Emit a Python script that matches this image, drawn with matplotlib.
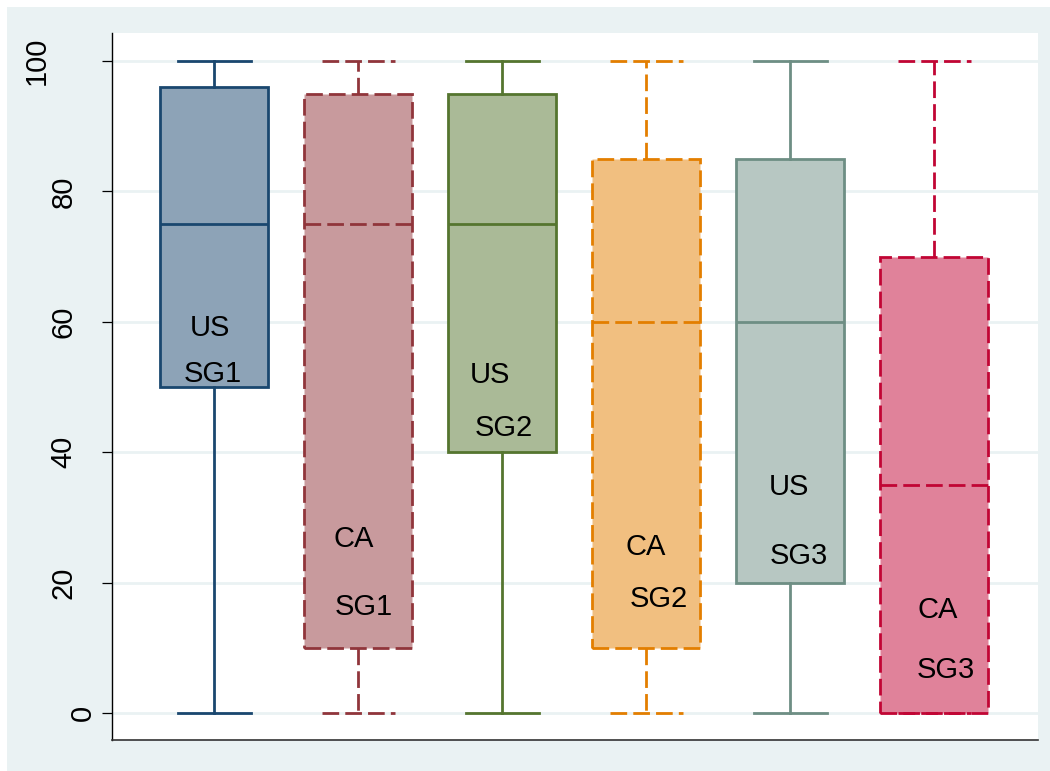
import matplotlib
matplotlib.use("Agg")
import matplotlib.pyplot as plt
import matplotlib.transforms as mtransforms
from matplotlib.patches import Rectangle
from matplotlib.colors import to_rgb

plt.rcParams["font.family"] = ["Liberation Sans", "DejaVu Sans"]

# box summaries for each country / subgroup
countries = ["US", "CA", "US", "CA", "US", "CA"]
groups = ["SG1", "SG1", "SG2", "SG2", "SG3", "SG3"]
whis_lo = [0, 0, 0, 0, 0, 0]
q1 = [50, 10, 40, 10, 20, 0]
medians = [75, 75, 75, 60, 60, 35]
q3 = [96, 95, 95, 85, 85, 70]
whis_hi = [100, 100, 100, 100, 100, 100]

line_colors = ["#1a476f", "#90353b", "#55752f", "#e37e00", "#6e8e84", "#c10534"]
dashed = [False, True, False, True, False, True]

# text placement inside the boxes (data coords, baseline)
country_x = [0.972, 1.969, 2.915, 3.999, 4.992, 6.024]
country_y = [57.9, 25.5, 50.7, 24.3, 33.4, 14.6]
group_x = [0.99, 2.039, 3.012, 4.089, 5.062, 6.077]
group_y = [50.8, 15.1, 42.5, 16.3, 22.9, 5.4]

bg = "#eaf2f3"
fs = 21
lw = 2.0


def lighten(c, amount=0.5):
    r, g, b = to_rgb(c)
    return (1 - amount * (1 - r), 1 - amount * (1 - g), 1 - amount * (1 - b))


fig = plt.figure(figsize=(10.5, 7.71), dpi=100)
fig.patches.append(Rectangle((7 / 1050, 0), 1, 1 - 7 / 771, transform=fig.transFigure,
                             facecolor=bg, edgecolor="none", zorder=-10))
ax = fig.add_axes([112 / 1050, 31 / 771, 926 / 1050, 707 / 771])
ax.set_facecolor("white")

stats = []
for i in range(len(countries)):
    stats.append({"med": medians[i], "q1": q1[i], "q3": q3[i],
                  "whislo": whis_lo[i], "whishi": whis_hi[i],
                  "label": countries[i] + " " + groups[i]})

positions = list(range(1, len(stats) + 1))
bp = ax.bxp(stats, positions=positions, widths=0.75, capwidths=0.51,
            patch_artist=True, showfliers=False, manage_ticks=False, zorder=3)

for i, col in enumerate(line_colors):
    ls = (0, (6, 2.2)) if dashed[i] else "-"
    box = bp["boxes"][i]
    box.set_facecolor(lighten(col))
    box.set_edgecolor(col)
    box.set_linewidth(lw)
    box.set_linestyle(ls)
    bp["medians"][i].set(color=col, linewidth=lw, linestyle=ls)
    for ln in bp["whiskers"][2 * i:2 * i + 2] + bp["caps"][2 * i:2 * i + 2]:
        ln.set(color=col, linewidth=lw, linestyle=ls)

for i in range(len(countries)):
    ax.text(country_x[i], country_y[i], countries[i], ha="center", va="baseline",
            fontsize=fs, zorder=5)
    ax.text(group_x[i], group_y[i], groups[i], ha="center", va="baseline",
            fontsize=fs, zorder=5)

ax.set_xlim(0.29, 6.72)
ax.set_ylim(-4.1, 104.3)
ax.set_yticks([0, 20, 40, 60, 80, 100])
ax.set_xticks([])
ax.yaxis.grid(True, color=bg, linewidth=2.0, zorder=0)
ax.set_axisbelow(True)

for s in ["top", "right"]:
    ax.spines[s].set_visible(False)
ax.spines["left"].set_linewidth(1.0)
ax.spines["bottom"].set_linewidth(1.2)
ax.spines["bottom"].set_color("#333333")

ax.tick_params(axis="y", length=7.2, width=0.9, pad=4.0, labelsize=fs, labelrotation=90)
for lab in ax.get_yticklabels():
    lab.set_va("center")

# Stata-style label placement: longer labels sit further from the axis
shift = {1: 0, 2: -19, 3: -46}
for tick in ax.yaxis.get_major_ticks():
    n = len(str(int(round(tick.get_loc()))))
    off = mtransforms.ScaledTranslation(shift[n] / 100, 0, fig.dpi_scale_trans)
    tick.label1.set_transform(tick.label1.get_transform() + off)

fig.savefig("out.png", dpi=100)
